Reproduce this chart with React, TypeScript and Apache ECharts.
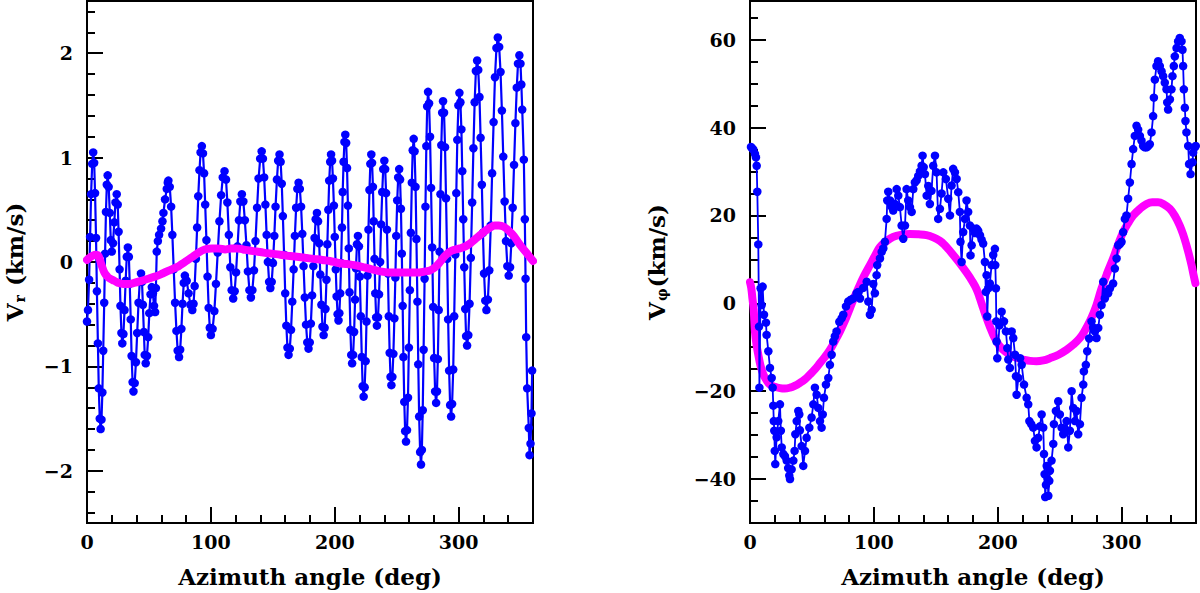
import React, { useEffect, useRef } from "react";
import * as echarts from "echarts";

// Left panel: radial velocity V_r (km/s) vs azimuth angle (deg)
const vrPoints: [number, number][] = [
  [0,-0.57],[0.8,-0.46],[1.7,-0.17],[2.5,0.24],[3.3,0.65],[4.2,0.94],[5,1.05],
  [5.8,0.95],[6.5,0.66],[7.3,0.23],[8,-0.28],[8.8,-0.78],[9.5,-1.21],[10.3,-1.5],[11,-1.6],
  [11.7,-1.51],[12.4,-1.25],[13.1,-0.85],[13.9,-0.39],[14.6,0.08],[15.3,0.48],[16,0.74],[16.7,0.83],
  [17.5,0.72],[18.4,0.47],[19.2,0.21],[20,0.1],
  [21,0.18],[22,0.38],[23,0.57],[24,0.65],
  [24.8,0.55],[25.5,0.29],[26.3,-0.07],[27,-0.42],[27.8,-0.68],[28.5,-0.78],
  [29.4,-0.69],[30.3,-0.46],[31.2,-0.18],[32.1,0.05],[33,0.14],
  [33.8,0.05],[34.5,-0.21],[35.3,-0.55],[36,-0.9],[36.8,-1.15],[37.5,-1.24],
  [38.5,-1.16],[39.5,-0.96],[40.5,-0.68],[41.6,-0.39],[42.6,-0.19],[43.6,-0.11],
  [44.4,-0.19],[45.1,-0.41],[45.9,-0.67],[46.6,-0.89],[47.4,-0.97],
  [48.4,-0.9],[49.4,-0.72],[50.3,-0.49],[51.3,-0.31],[52.3,-0.24],
  [53.2,-0.3],[54.1,-0.42],[55,-0.48],
  [55.6,-0.25],[56.3,0.1],[57.2,0.2],[58.2,0.26],[59.8,0.32],[60.9,0.39],[61.7,0.47],[63,0.6],[64.4,0.7],[65.2,0.76],[65.7,0.78],
  [66.8,0.72],[67.9,0.53],[68.9,0.26],[70,-0.07],[71.1,-0.39],[72.2,-0.66],[73.2,-0.85],[74.3,-0.91],
  [75.2,-0.84],[76.2,-0.64],[77.1,-0.4],[78.1,-0.2],[79,-0.13],
  [80.5,-0.18],[82,-0.3],[83.5,-0.41],[85,-0.46],
  [86,-0.4],[86.9,-0.23],[87.9,0.03],[88.9,0.33],[89.8,0.63],[90.8,0.88],[91.7,1.05],[92.7,1.11],
  [93.6,1.04],[94.5,0.85],[95.4,0.55],[96.4,0.21],[97.3,-0.14],[98.2,-0.44],[99.1,-0.63],[100,-0.7],
  [101.4,-0.64],[102.8,-0.47],[104.1,-0.21],[105.5,0.09],[106.9,0.39],[108.3,0.64],[109.6,0.81],[111,0.87],
  [112.2,0.79],[113.3,0.57],[114.5,0.26],[115.7,-0.05],[116.8,-0.27],[118,-0.35],
  [119.2,-0.28],[120.3,-0.1],[121.5,0.15],[122.7,0.4],[123.8,0.58],[125,0.65],
  [126.2,0.58],[127.4,0.4],[128.7,0.16],[129.9,-0.09],[131.1,-0.27],[132.3,-0.34],
  [133.5,-0.27],[134.8,-0.08],[136,0.2],[137.3,0.52],[138.5,0.8],[139.8,0.99],[141,1.06],
  [142,0.99],[143,0.81],[144,0.55],[145,0.26],[146,0],[147,-0.19],[148,-0.25],
  [149.1,-0.19],[150.1,-0.01],[151.2,0.25],[152.2,0.53],[153.3,0.79],[154.3,0.97],[155.4,1.03],
  [156.3,0.96],[157.2,0.75],[158.1,0.44],[159.1,0.07],[160,-0.3],[160.9,-0.61],[161.8,-0.82],[162.7,-0.89],
  [163.7,-0.83],[164.7,-0.65],[165.7,-0.38],[166.8,-0.07],[167.8,0.25],[168.8,0.52],[169.8,0.7],[170.8,0.76],
  [171.8,0.7],[172.8,0.53],[173.8,0.27],[174.8,-0.04],[175.8,-0.34],[176.8,-0.6],[177.8,-0.77],[178.8,-0.83],
  [179.8,-0.77],[180.7,-0.59],[181.7,-0.32],[182.7,-0.04],[183.7,0.23],[184.6,0.41],[185.6,0.47],
  [186.5,0.39],[187.4,0.18],[188.3,-0.12],[189.2,-0.41],[190.1,-0.62],[191,-0.7],
  [191.8,-0.63],[192.5,-0.45],[193.3,-0.17],[194,0.17],[194.8,0.5],[195.5,0.78],[196.3,0.96],[197,1.03],
  [197.8,0.97],[198.5,0.8],[199.3,0.54],[200,0.24],[200.8,-0.07],[201.5,-0.33],[202.3,-0.5],[203,-0.56],
  [203.7,-0.49],[204.4,-0.3],[205.1,-0.01],[205.8,0.33],[206.4,0.67],[207.1,0.96],[207.8,1.15],[208.5,1.22],
  [209.2,1.14],[209.9,0.9],[210.6,0.54],[211.3,0.13],[211.9,-0.29],[212.6,-0.65],[213.3,-0.89],[214,-0.97],
  [214.8,-0.89],[215.6,-0.67],[216.4,-0.36],[217.1,-0.06],[217.9,0.17],[218.7,0.25],
  [219.5,0.15],[220.2,-0.14],[221,-0.52],[221.8,-0.91],[222.5,-1.19],[223.3,-1.29],
  [224.1,-1.2],[224.9,-0.95],[225.6,-0.57],[226.4,-0.13],[227.2,0.31],[228,0.69],[228.7,0.94],[229.5,1.03],
  [230.1,0.95],[230.8,0.72],[231.4,0.39],[232.1,0.03],[232.7,-0.3],[233.4,-0.53],[234,-0.61],
  [234.9,-0.53],[235.7,-0.31],[236.6,0],[237.4,0.36],[238.3,0.67],[239.1,0.89],[240,0.97],
  [240.7,0.89],[241.4,0.66],[242.1,0.31],[242.9,-0.11],[243.6,-0.52],[244.3,-0.87],[245,-1.1],[245.7,-1.18],
  [246.5,-1.1],[247.3,-0.88],[248.1,-0.54],[248.9,-0.15],[249.6,0.25],[250.4,0.59],[251.2,0.81],[252,0.89],
  [252.7,0.79],[253.4,0.51],[254.1,0.08],[254.8,-0.42],[255.4,-0.91],[256.1,-1.34],[256.8,-1.62],[257.5,-1.72],
  [258.3,-1.61],[259.1,-1.3],[259.8,-0.82],[260.6,-0.27],[261.4,0.28],[262.2,0.76],[262.9,1.07],[263.7,1.18],
  [264.4,1.06],[265.2,0.72],[265.9,0.22],[266.7,-0.38],[267.4,-0.98],[268.1,-1.48],[268.9,-1.82],[269.6,-1.94],
  [270.3,-1.8],[271,-1.42],[271.7,-0.84],[272.5,-0.16],[273.2,0.53],[273.9,1.11],[274.6,1.49],[275.3,1.63],
  [276.1,1.52],[276.9,1.2],[277.7,0.71],[278.6,0.14],[279.4,-0.43],[280.2,-0.92],[281,-1.24],[281.8,-1.35],
  [282.5,-1.24],[283.2,-0.93],[283.9,-0.46],[284.6,0.1],[285.3,0.65],[286,1.12],[286.7,1.43],[287.4,1.54],
  [288.2,1.43],[289,1.1],[289.8,0.61],[290.7,0.03],[291.5,-0.55],[292.3,-1.04],[293.1,-1.37],[293.9,-1.48],
  [294.7,-1.36],[295.6,-1.03],[296.4,-0.52],[297.3,0.07],[298.1,0.66],[298.9,1.17],[299.8,1.5],[300.6,1.62],
  [301.4,1.53],[302.2,1.27],[302.9,0.87],[303.7,0.41],[304.5,-0.05],[305.3,-0.45],[306,-0.71],[306.8,-0.8],
  [307.8,-0.7],[308.8,-0.4],[309.8,0.04],[310.9,0.57],[311.9,1.09],[312.9,1.53],[313.9,1.83],[314.9,1.93],
  [315.8,1.84],[316.8,1.58],[317.7,1.19],[318.7,0.74],[319.6,0.28],[320.5,-0.11],[321.5,-0.37],[322.4,-0.46],
  [323.6,-0.36],[324.7,-0.08],[325.9,0.35],[327,0.85],[328.2,1.34],[329.3,1.77],[330.5,2.05],[331.6,2.15],
  [332.7,2.06],[333.8,1.82],[334.9,1.45],[336,1.01],[337.1,0.58],[338.2,0.2],[339.3,-0.04],[340.4,-0.13],
  [341.5,-0.05],[342.5,0.18],[343.6,0.52],[344.7,0.93],[345.8,1.33],[346.9,1.67],[347.9,1.9],[349,1.98],
  [349.9,1.9],[350.6,1.7],[351.3,1.46],[352.6,0.98],[353.4,0.41],[354,-0.16],[354.5,-0.72],[355.3,-1.21],[356.6,-1.59],[357.2,-1.85],
  [358,-1.74],[358.8,-1.45],[359.3,-1.04]
];

const vrFit: [number, number][] = [
  [0,0.02],[2,0.04],[4.5,0.06],[7,0.07],[9.2,0.06],[11.5,-0.02],[14,-0.1],[16.5,-0.14],[18.6,-0.16],
  [22,-0.18],[25.3,-0.2],[29,-0.21],[33.4,-0.21],[38,-0.2],[44,-0.18],[49.5,-0.16],[55,-0.14],
  [61,-0.11],[68.4,-0.07],[74,-0.04],[79,0],[84,0.04],[90,0.09],[95,0.12],[100.7,0.13],[106,0.13],
  [111.5,0.12],[116,0.13],[121,0.13],[126,0.12],[131,0.11],[137,0.1],[142.5,0.09],[149,0.08],
  [156,0.07],[162,0.06],[169.4,0.05],[176,0.04],[183,0.03],[190,0.02],[196,0.01],[203,-0.01],
  [210,-0.02],[216,-0.03],[223,-0.05],[230,-0.07],[236.8,-0.09],[243,-0.1],[250,-0.1],[256,-0.1],
  [262,-0.1],[268,-0.1],[273,-0.09],[277,-0.08],[281,-0.05],[285,0],[289,0.06],[293,0.1],
  [297.4,0.12],[301,0.13],[305.5,0.15],[309.5,0.18],[313.5,0.22],[317.5,0.26],[321.6,0.3],
  [325.5,0.33],[329,0.35],[332.4,0.35],[336,0.34],[340.4,0.3],[344.5,0.25],[348.5,0.18],
  [352.5,0.12],[356.6,0.06],[360,0.01]
];

// Right panel: azimuthal velocity V_phi (km/s) vs azimuth angle (deg)
const vphiPoints: [number, number][] = [
  [0.8,35.6],[1.6,35.3],[2.7,35.0],[4.0,34.0],[4.8,33.2],[5.4,31.3],[5.9,25.4],[6.7,13.4],[7.3,-5.3],[7.6,-19.2],
  [8.6,3.4],[9.4,-0.4],[10.2,3.8],[11.3,-2.6],[12.9,-4.4],[13.4,-7.2],[14.8,-10.9],[16.1,-14.7],[17.5,-17.0],
  [18.3,-19.2],[18.8,-23.3],[19.2,-26.8],[19.6,-29.0],[20.0,-33.6],[20.4,-36.6],[21.5,-30.5],[22.8,-26.8],
  [24.2,-23.0],[24.9,-29.0],[25.6,-32.8],[26.9,-34.3],[28.2,-34.8],[29.6,-35.8],[30.8,-37.5],[31.7,-39.2],
  [32.3,-40.0],[33.6,-37.8],[35.0,-35.8],[36.0,-33.6],[36.6,-29.8],[37.7,-26.8],[39.0,-24.5],[39.8,-25.3],
  [40.3,-28.9],[41.7,-32.5],[43.0,-37.0],[44.4,-33.6],[45.7,-30.6],[47.9,-28.3],[49.7,-26.0],[51.1,-23.0],
  [52.4,-19.2],[53.8,-20.8],[55.1,-23.8],[56.5,-26.8],[57.8,-28.3],[58.7,-25.3],[59.7,-21.5],[61.3,-18.5],
  [63.2,-17.0],[64.5,-14.0],[65.9,-11.7],[67.2,-8.7],[68.5,-7.5],[69.9,-6.4],[72.1,-4.2],[74.0,-3.4],
  [75.3,-2.6],[77.5,-0.7],[79.3,0.4],[81.3,0.8],[83.3,1.1],[86.1,2.3],[87.4,2.6],[88.8,1.1],[91.4,3.5],
  [94.2,4.9],[95.5,0.4],[96.8,-2.6],[98.2,-1.5],[99.5,4.4],[100.8,2.3],[102.2,6.4],[102.7,8.7],[104.9,10.2],
  [106.3,11.7],[107.6,12.5],[108.9,14.0],[110.3,19.2],[110.8,23.4],[111.6,25.4],[113.0,23.4],[114.3,22.0],
  [115.6,21.1],[117.0,22.6],[118.4,26.0],[119.7,24.5],[121.0,21.9],[122.4,17.7],[123.7,14.7],[125.1,17.7],
  [126.4,26.0],[127.7,23.4],[129.1,21.9],[130.5,20.8],[131.8,26.0],[133.1,27.5],[134.5,28.0],[135.8,29.0],
  [137.2,30.0],[138.5,31.3],[139.3,33.6],[140.2,31.0],[141.2,29.4],[142.6,24.5],[143.9,26.7],[145.2,22.6],
  [146.5,25.6],[147.9,31.3],[149.3,33.6],[150.6,29.8],[151.9,19.2],[153.3,21.5],[154.6,25.0],[156.0,29.8],
  [158.1,28.3],[160.0,23.8],[161.4,20.0],[162.7,26.8],[164.0,30.6],[165.4,29.8],[166.8,28.3],[168.1,25.3],
  [169.4,20.8],[169.9,14.0],[170.8,9.4],[172.1,16.2],[173.5,19.2],[174.8,23.4],[176.1,20.8],[177.5,17.7],
  [178.0,10.9],[178.9,13.2],[180.2,17.0],[181.5,16.0],[182.9,17.0],[184.2,16.5],[185.6,15.5],[186.9,14.5],
  [188.2,13.6],[189.6,9.4],[190.4,2.6],[191.0,6.4],[191.5,-3.0],[192.3,3.4],[193.6,4.5],[195.0,8.7],
  [196.3,11.0],[197.7,12.4],[198.0,8.7],[198.5,3.4],[198.8,-4.1],[199.0,-8.7],[199.6,-12.5],[201.4,-5.0],
  [203.1,-1.9],[205.0,-4.1],[206.6,-6.4],[207.7,-10.2],[208.5,-12.8],[209.8,-14.7],[211.2,-6.4],[212.5,-7.9],
  [213.9,-11.7],[214.7,-16.6],[215.2,-20.8],[216.6,-17.0],[218.0,-12.5],[219.3,-14.0],[221.2,-18.5],
  [223.3,-21.5],[224.6,-23.0],[225.5,-26.8],[227.0,-27.5],[228.6,-28.3],[230.0,-31.3],[231.3,-32.8],
  [232.7,-30.6],[234.0,-28.0],[235.4,-25.3],[236.7,-28.3],[237.3,-34.3],[237.8,-38.9],[238.3,-44.1],
  [238.9,-41.3],[239.5,-37.0],[240.2,-40.0],[240.8,-43.8],[241.6,-40.4],[242.1,-38.1],[243.4,-35.8],
  [244.8,-32.0],[245.3,-27.5],[246.9,-24.5],[248.8,-22.3],[250.1,-25.3],[251.5,-28.3],[252.8,-29.8],
  [254.1,-28.5],[255.5,-26.8],[256.9,-32.8],[258.2,-29.0],[259.6,-20.0],[260.9,-23.8],[262.3,-26.8],
  [263.6,-24.5],[264.9,-29.8],[266.3,-27.5],[267.6,-21.5],[269.0,-18.5],[269.5,-15.5],[271.1,-14.0],
  [272.2,-10.9],[273.8,-8.0],[275.7,-4.1],[277.0,-5.5],[278.4,-6.4],[279.7,-7.9],[281.1,-5.6],[282.4,-2.6],
  [283.8,-0.4],[285.1,4.9],[286.4,1.1],[287.8,2.6],[289.1,2.3],[290.5,3.4],[293.1,4.5],[294.5,7.9],
  [295.9,10.2],[297.2,13.2],[298.6,13.5],[299.9,14.0],[301.2,16.2],[302.6,19.2],[303.9,20.0],[305.2,23.8],
  [306.6,27.5],[308.0,31.7],[309.3,35.1],[310.6,38.1],[312.0,40.4],[313.3,39.5],[314.7,38.1],[316.0,37.0],
  [317.3,35.8],[318.7,35.5],[320.1,35.5],[321.4,35.8],[322.7,36.2],[324.1,38.9],[325.4,42.6],[326.0,46.8],
  [326.8,50.9],[328.1,54.0],[329.4,55.1],[330.8,54.0],[332.2,52.8],[333.5,51.7],[334.8,50.2],[336.2,48.7],
  [336.8,45.7],[337.5,44.1],[338.9,46.4],[340.2,48.7],[341.0,51.7],[342.1,54.0],[342.9,56.2],[344.3,58.1],
  [345.6,59.6],[346.9,60.4],[348.3,59.6],[349.1,57.7],[349.6,54.0],[350.2,48.7],[351.0,44.5],[351.5,41.5],
  [352.3,38.9],[353.7,35.8],[354.4,31.7],[355.6,29.4],[357.2,32.1],[357.7,34.3],[359.0,35.5],[359.8,35.8]
];

const vphiFit: [number, number][] = [
  [0,4.8],[1,3.5],[2,1.0],[3,-1.5],[4,-6.4],[5.3,-9.5],[6.7,-11.7],[8.5,-14.2],[10.8,-16.2],[13.5,-17.6],
  [16.1,-18.5],[20,-19.0],[24.2,-19.3],[28,-19.4],[32.3,-19.2],[36,-18.8],[40.3,-18.1],[44.3,-17.3],
  [48.4,-16.2],[52.5,-15.0],[56.5,-13.6],[60.5,-12.2],[64.5,-10.6],[68.5,-8.6],[72.6,-6.4],[76.7,-3.9],
  [80.7,-1.1],[84,1.2],[87.4,3.4],[92,6.2],[96.8,8.7],[101,10.9],[104.9,12.8],[110,14.1],[115.6,15.1],
  [122,15.6],[129.1,15.8],[136,15.7],[142.5,15.5],[148,15.0],[153.3,14.2],[157,13.3],[161.4,11.9],
  [168,9.6],[174.8,7.0],[179,5.2],[182.9,3.2],[185.6,1.1],[188.3,-1.2],[191,-3.4],[193.7,-5.4],
  [196.4,-7.2],[199,-8.6],[201.7,-9.8],[205.7,-10.9],[209.8,-11.7],[215,-12.4],[220.6,-12.8],[226,-13.1],
  [231.3,-13.2],[236.7,-13.0],[242.1,-12.5],[249,-11.7],[255.5,-10.6],[261,-9.4],[266.3,-7.9],[270.3,-6.2],
  [274.3,-4.1],[277,-2.4],[279.7,-0.4],[283.8,3.4],[288.5,7.0],[293.1,10.2],[297.2,13.4],[301.2,16.2],
  [305.3,18.3],[309.3,20],[314.7,21.5],[320.1,22.6],[324.7,23.0],[329.4,23.0],[334.2,22.5],[338.9,21.5],
  [343,19.9],[346.9,17.7],[349.7,15.6],[352.3,13.2],[354.4,11.0],[356.4,8.7],[358,6.5],[359.5,4.6]
];

const FONT = "DejaVu Serif";
const BLUE = "#0000ff";
const MAGENTA = "#ff00ff";

const minusFmt = (v: number) => String(v).replace("-", "\u2212");

function xAxisFor(gridIndex: number) {
  return {
    type: "value",
    gridIndex,
    min: 0,
    max: 360,
    interval: 100,
    name: "Azimuth angle (deg)",
    nameLocation: "middle",
    nameGap: 42,
    nameTextStyle: { fontFamily: FONT, fontSize: 23, fontWeight: "bold", color: "#000" },
    axisLine: { show: true, onZero: false, lineStyle: { color: "#000", width: 2 } },
    axisTick: { show: true, inside: true, length: 16, lineStyle: { color: "#000", width: 2 } },
    minorTick: { show: true, splitNumber: 5, length: 8, lineStyle: { color: "#000", width: 2 } },
    axisLabel: {
      fontFamily: FONT, fontSize: 19, fontWeight: "bold", color: "#000", margin: 9,
      showMaxLabel: false, formatter: minusFmt,
    },
    splitLine: { show: false },
    minorSplitLine: { show: false },
  };
}

function yAxisFor(gridIndex: number, min: number, max: number, step: number, minorSplit: number, name: string, gap: number) {
  return {
    type: "value",
    gridIndex,
    min,
    max,
    minInterval: step,
    maxInterval: step,
    name,
    nameLocation: "middle",
    nameGap: gap,
    nameRotate: 90,
    nameTextStyle: {
      fontFamily: FONT, fontSize: 23, fontWeight: "bold", color: "#000",
      rich: {
        v: { fontFamily: FONT, fontSize: 23, fontWeight: "bold", color: "#000" },
        s: { fontFamily: FONT, fontSize: 14, color: "#000", fontWeight: "bold", padding: [12, 1, 0, 1] },
      },
    },
    axisLine: { show: true, onZero: false, lineStyle: { color: "#000", width: 2 } },
    axisTick: { show: true, inside: true, length: 16, lineStyle: { color: "#000", width: 2 } },
    minorTick: { show: true, splitNumber: minorSplit, length: 8, lineStyle: { color: "#000", width: 2 } },
    axisLabel: {
      fontFamily: FONT, fontSize: 19, fontWeight: "bold", color: "#000", margin: 14,
      showMinLabel: false, showMaxLabel: false, formatter: minusFmt,
    },
    splitLine: { show: false },
    minorSplitLine: { show: false },
  };
}

export default function App() {
  const ref = useRef<HTMLDivElement>(null);

  useEffect(() => {
    if (!ref.current) return;
    const chart = echarts.init(ref.current, undefined, { renderer: "svg" });
    const option = {
      animation: false,
      backgroundColor: "#fff",
      textStyle: { fontFamily: FONT },
      grid: [
        { left: 87, top: 1, width: 446, height: 525, show: true, borderColor: "#000", borderWidth: 2, backgroundColor: "transparent" },
        { left: 750, top: 1, width: 446, height: 525, show: true, borderColor: "#000", borderWidth: 2, backgroundColor: "transparent" },
      ],
      xAxis: [xAxisFor(0), xAxisFor(1)],
      yAxis: [
        yAxisFor(0, -2.5, 2.5, 1, 5, "{v|V}{s|r} (km/s)", 60),
        yAxisFor(1, -50, 68.8, 20, 4, "{v|V}{s|\u03c6}(km/s)", 81),
      ],
      series: [
        {
          type: "line", xAxisIndex: 0, yAxisIndex: 0, data: vrPoints,
          symbol: "circle", symbolSize: 8.5, showSymbol: true,
          lineStyle: { color: BLUE, width: 2.2 }, itemStyle: { color: BLUE },
          z: 2, silent: true,
        },
        {
          type: "line", xAxisIndex: 0, yAxisIndex: 0, data: vrFit,
          symbol: "none", smooth: 0.4,
          lineStyle: { color: MAGENTA, width: 8, cap: "round" },
          z: 3, silent: true,
        },
        {
          type: "line", xAxisIndex: 1, yAxisIndex: 1, data: vphiFit,
          symbol: "none", smooth: 0.4,
          lineStyle: { color: MAGENTA, width: 8, cap: "round" },
          z: 2, silent: true,
        },
        {
          type: "line", xAxisIndex: 1, yAxisIndex: 1, data: vphiPoints,
          symbol: "circle", symbolSize: 8.5, showSymbol: true,
          lineStyle: { color: BLUE, width: 1.8 }, itemStyle: { color: BLUE },
          z: 3, silent: true,
        },
      ],
    };
    chart.setOption(option as any);
    return () => chart.dispose();
  }, []);

  return (
    <div
      ref={ref}
      style={{ position: "absolute", left: 0, top: 0, width: 1200, height: 593, background: "#fff" }}
    />
  );
}
